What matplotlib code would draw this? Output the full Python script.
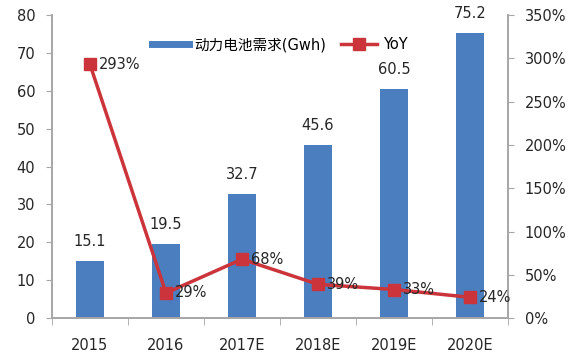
import matplotlib
matplotlib.use("Agg")
import matplotlib.pyplot as plt
import numpy as np
from matplotlib.ticker import FuncFormatter
from matplotlib.lines import Line2D

plt.rcParams['font.family'] = ['DejaVu Sans', 'Noto Sans CJK SC']

years = ["2015", "2016", "2017E", "2018E", "2019E", "2020E"]
demand = [15.1, 19.5, 32.7, 45.6, 60.5, 75.2]
yoy = [293, 29, 68, 39, 33, 24]

bar_color = "#4a7ebf"
line_color = "#cc343b"
axis_color = "#a6a6a6"
text_color = "#262626"

fig = plt.figure(figsize=(5.68, 3.59), dpi=100)
ax = fig.add_axes([0.0915, 0.114, 0.803, 0.844])
ax2 = ax.twinx()

x = np.arange(len(years))
ax.bar(x, demand, width=0.37, color=bar_color, zorder=2)
for xi, v in zip(x, demand):
  ax.text(xi, v + 3.2, f"{v:.1f}", ha="center", va="bottom", fontsize=10.5, color=text_color)

line, = ax2.plot(x, yoy, color=line_color, lw=2.5, marker="s", ms=8,
                 markerfacecolor=line_color, markeredgecolor=line_color, label="YoY", zorder=3)
for xi, v in zip(x, yoy):
  ax2.text(xi + 0.12, v, f"{v}%", ha="left", va="center", fontsize=10.5, color=text_color)

ax.set_xlim(-0.5, 5.5)
ax.set_ylim(0, 80)
ax.set_yticks(range(0, 81, 10))
ax2.set_ylim(0, 350)
ax2.set_yticks(range(0, 351, 50))
ax2.yaxis.set_major_formatter(FuncFormatter(lambda v, p: f"{int(v)}%"))

ax.set_xticks(x)
ax.set_xticklabels(years)
ax.set_xticks(np.arange(-0.5, 6, 1), minor=True)
ax.tick_params(axis="x", which="major", length=0, pad=14, labelsize=10.5, colors=text_color)
ax.tick_params(axis="x", which="minor", length=5, color=axis_color, direction="out")
ax.tick_params(axis="y", length=4, color=axis_color, labelsize=10.5, labelcolor=text_color, pad=8)
ax2.tick_params(axis="y", length=4, color=axis_color, labelsize=10.5, labelcolor=text_color, pad=8)

for a in (ax, ax2):
  a.spines["top"].set_visible(False)
  for s in ("left", "right", "bottom"):
    a.spines[s].set_color(axis_color)
    a.spines[s].set_linewidth(1.2)

bar_handle = Line2D([], [], color=bar_color, lw=5)
ax.legend([bar_handle, line], ["动力电池需求(Gwh)", "YoY"], loc="upper center",
          bbox_to_anchor=(0.5, 0.97), ncol=2, frameon=False, fontsize=10.5,
          handlelength=2.5, columnspacing=1.0, handletextpad=0.4)

fig.savefig("out.png", dpi=100)
